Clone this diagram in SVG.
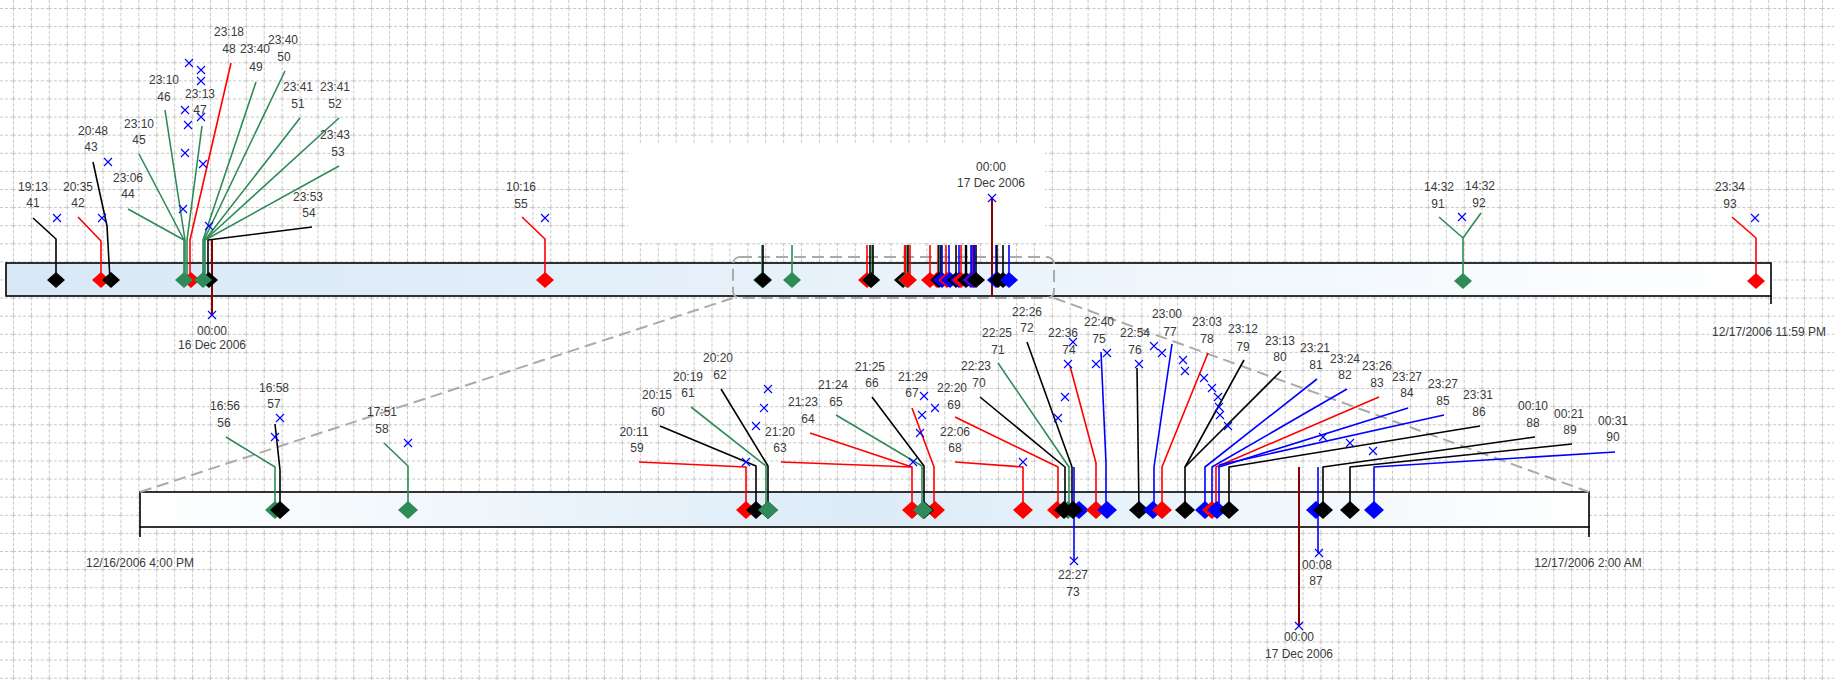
<svg xmlns="http://www.w3.org/2000/svg" xmlns:xlink="http://www.w3.org/1999/xlink" width="1834" height="680" viewBox="0 0 1834 680">
<style>
.t{font-family:"Liberation Sans",Arial,sans-serif;font-size:12px;fill:#3a3a3a;text-anchor:middle}
.k,.r,.g,.b,.m{fill:none;stroke-width:1.6;stroke-linejoin:round}
.k{stroke:#000}.r{stroke:#f00}.g{stroke:#2e8b57}.b{stroke:#00f}.m{stroke:#8b0000;stroke-width:2}
.v{stroke-width:2.4}
.x{stroke:#00f;stroke-width:1.1;fill:none}
.dk{fill:#000}.dr{fill:#f00}.dg{fill:#2e8b57}.db{fill:#00f}
.bar{stroke:#000;stroke-width:1.6}
.zd{fill:none;stroke:#aaa;stroke-width:2;stroke-dasharray:12,6}
</style>
<defs>
<pattern id="grid" width="17.91" height="18.1" patternUnits="userSpaceOnUse" x="13" y="8">
<path d="M0,0.5H17.91M0.5,0V18.1" stroke="#c6c6c6" stroke-width="1" stroke-dasharray="3,2" fill="none"/>
</pattern>
<linearGradient id="gt" x1="0" x2="1" y1="0" y2="0">
<stop offset="0" stop-color="#d8e8f6"/><stop offset="0.55" stop-color="#eaf3fb"/><stop offset="1" stop-color="#ffffff"/>
</linearGradient>
<linearGradient id="gb" x1="0" x2="1" y1="0" y2="0">
<stop offset="0" stop-color="#ffffff"/><stop offset="0.5" stop-color="#dcebf7"/><stop offset="1" stop-color="#ffffff"/>
</linearGradient>
<path id="d1" d="M0,-8L9,0L0,8L-9,0Z"/>
<path id="d2" d="M0,-9L10,0L0,9L-10,0Z"/>
<path id="xm" d="M-4,-4L4,4M4,-4L-4,4"/>
</defs>

<rect width="1834" height="680" fill="#fff"/>
<rect width="1834" height="680" fill="url(#grid)"/>
<rect x="628" y="143" width="417" height="100" fill="#fff"/>

<g id="timeline-top">
<rect class="bar" x="6" y="263" width="1765" height="33" fill="url(#gt)"/>
<path class="k" d="M1771,296V304"/>
<text class="t" x="1769" y="336">12/17/2006 11:59 PM</text>
</g>
<g id="timeline-bottom">
<rect class="bar" x="140" y="492" width="1449" height="35" fill="url(#gb)"/>
<path class="k" d="M140,527V537M1589,527V537"/>
<text class="t" x="140" y="567">12/16/2006 4:00 PM</text>
<text class="t" x="1588" y="567">12/17/2006 2:00 AM</text>
</g>
<g id="zoom-window">
<rect class="zd" x="733" y="257" width="321" height="41" rx="7"/>
<path class="zd" d="M733,298L140,492M1054,298L1589,492"/>
</g>

<g id="connectors">
<path class="k" d="M33,218L56,239V280"/>
<path class="r" d="M78,217L101,241V280"/>
<path class="k" d="M93,162L107,226L110,280"/>
<path class="g" d="M128,209L184,240V280"/>
<path class="g" d="M139,154L184,240"/>
<path class="g" d="M165,110L185,240V280"/>
<path class="g" d="M202,126L187,240V280"/>
<path class="r" d="M231,63L190,240V280"/>
<path class="g" d="M256,82L203,240V280"/>
<path class="g" d="M285,71L204,240V280"/>
<path class="g" d="M300,118L205,240V280"/>
<path class="g" d="M339,118L205,240"/>
<path class="g" d="M339,166L205,240"/>
<path class="k" d="M312,227L208,240V280"/>
<path class="m" d="M212,240V315"/>
<path class="r" d="M522,217L545,239V280"/>
<path class="m" d="M992,198V296"/>
<path class="g" d="M1439,217L1463,238V280M1481,213L1463,238"/>
<path class="r" d="M1732,217L1756,238V280"/>
<g id="top-stubs">
<path class="g" d="M762,245V280"/><path class="k" d="M763,245V280"/><path class="g" d="M792,245V280"/>
<path class="r" d="M867,245V280"/><path class="k" d="M870,245V280"/><path class="g" d="M872,245V280"/><path class="k" d="M873,245V280"/>
<path class="r v" d="M905,245V280"/><path class="g" d="M907,245V280"/><path class="k" d="M908,245V280"/><path class="r" d="M910,245V280"/>
<path class="r" d="M930,245V280"/>
<path class="r" d="M938,245V280"/><path class="k" d="M939,245V280"/><path class="g" d="M940,245V280"/><path class="k" d="M941,245V280"/><path class="b" d="M942,245V280"/>
<path class="r" d="M946,245V280"/><path class="b" d="M949,245V280"/>
<path class="k" d="M956,245V280"/><path class="b" d="M959,245V280"/><path class="r" d="M961,245V280"/>
<path class="k v" d="M966,245V280"/>
<path class="b" d="M971,245V280"/><path class="b" d="M972,245V280"/><path class="r" d="M973,245V280"/><path class="b v" d="M974,245V280"/><path class="k" d="M976,245V280"/>
<path class="b" d="M996,245V280"/><path class="k" d="M997,245V280"/><path class="k" d="M1003,245V280"/><path class="b" d="M1009,245V280"/>
</g>
<path class="g" d="M226,437L275,467V510"/>
<path class="k" d="M275,424L280,470V510"/>
<path class="g" d="M384,443L408,466V510"/>
<path class="r" d="M639,462L746,467V510"/>
<path class="k" d="M660,426L756,466V510"/>
<path class="g" d="M691,407L766,466V510"/>
<path class="k" d="M721,389L768,466V510"/>
<path class="r" d="M781,462L912,467V510"/>
<path class="r" d="M810,433L912,467"/>
<path class="g" d="M836,415L922,466V510"/>
<path class="k" d="M872,397L924,466V510"/>
<path class="r" d="M912,408L934,467V510"/>
<path class="r" d="M955,462L1023,467V510"/>
<path class="r" d="M955,417L1058,467V510"/>
<path class="k" d="M980,397L1065,467V510"/>
<path class="g" d="M998,363L1069,467V510"/>
<path class="k" d="M1027,342L1072,467V510"/>
<path class="b" d="M1074,467V561"/>
<path class="r" d="M1070,366L1096,463V510"/>
<path class="b" d="M1101,352L1106,463V510"/>
<path class="k" d="M1137,368L1139,510"/>
<path class="b" d="M1172,344L1154,467V510"/>
<path class="r" d="M1208,353L1162,467V510"/>
<path class="k" d="M1244,360L1185,467V510"/>
<path class="k" d="M1281,371L1185,467"/>
<path class="b" d="M1317,379L1205,467V510"/>
<path class="b" d="M1347,389L1212,467V510"/>
<path class="r" d="M1379,397L1216,467V510"/>
<path class="b" d="M1408,408L1219,467V510"/>
<path class="b" d="M1444,415L1219,465"/>
<path class="k" d="M1480,426L1229,467V510"/>
<path class="m" d="M1299,467V626"/>
<path class="b" d="M1318,467V553"/>
<path class="k" d="M1535,437L1323,467V510"/>
<path class="k" d="M1572,444L1350,467V510"/>
<path class="b" d="M1615,452L1374,467V510"/>
</g>

<g id="xmarks" class="x">
<use href="#xm" x="57" y="218"/><use href="#xm" x="102" y="218"/><use href="#xm" x="108" y="162"/>
<use href="#xm" x="189" y="63"/><use href="#xm" x="201" y="70"/><use href="#xm" x="201" y="81"/>
<use href="#xm" x="185" y="110"/><use href="#xm" x="201" y="117"/><use href="#xm" x="188" y="125"/>
<use href="#xm" x="185" y="153"/><use href="#xm" x="203" y="164"/><use href="#xm" x="183" y="209"/>
<use href="#xm" x="209" y="226"/><use href="#xm" x="212" y="315"/><use href="#xm" x="545" y="218"/>
<use href="#xm" x="992" y="198"/><use href="#xm" x="1462" y="217"/><use href="#xm" x="1755" y="218"/>
<use href="#xm" x="280" y="418"/><use href="#xm" x="275" y="437"/><use href="#xm" x="408" y="443"/>
<use href="#xm" x="768" y="389"/><use href="#xm" x="764" y="408"/><use href="#xm" x="756" y="426"/><use href="#xm" x="746" y="462"/>
<use href="#xm" x="924" y="396"/><use href="#xm" x="935" y="408"/><use href="#xm" x="922" y="415"/><use href="#xm" x="920" y="433"/><use href="#xm" x="913" y="462"/>
<use href="#xm" x="1023" y="462"/><use href="#xm" x="1058" y="418"/><use href="#xm" x="1065" y="397"/><use href="#xm" x="1073" y="342"/>
<use href="#xm" x="1068" y="364"/><use href="#xm" x="1096" y="364"/><use href="#xm" x="1107" y="353"/><use href="#xm" x="1139" y="364"/>
<use href="#xm" x="1154" y="346"/><use href="#xm" x="1162" y="353"/><use href="#xm" x="1183" y="360"/><use href="#xm" x="1185" y="371"/>
<use href="#xm" x="1204" y="378"/><use href="#xm" x="1212" y="388"/><use href="#xm" x="1218" y="397"/><use href="#xm" x="1219" y="407"/>
<use href="#xm" x="1220" y="415"/><use href="#xm" x="1228" y="426"/><use href="#xm" x="1323" y="437"/><use href="#xm" x="1350" y="443"/>
<use href="#xm" x="1373" y="451"/><use href="#xm" x="1074" y="561"/><use href="#xm" x="1319" y="553"/><use href="#xm" x="1299" y="626"/>
</g>

<g id="e41"><use href="#d1" class="dk" x="56" y="280"/><text class="t" x="33" y="191">19:13</text><text class="t" x="33" y="207">41</text></g>
<g id="e42"><use href="#d1" class="dr" x="101" y="280"/><text class="t" x="78" y="191">20:35</text><text class="t" x="78" y="207">42</text></g>
<g id="e43"><use href="#d1" class="dk" x="111" y="280"/><text class="t" x="93" y="135">20:48</text><text class="t" x="91" y="151">43</text></g>
<g id="e48"><use href="#d1" class="dr" x="191" y="280"/><text class="t" x="229" y="36">23:18</text><text class="t" x="229" y="53">48</text></g>
<g id="e54"><use href="#d1" class="dk" x="209" y="280"/><text class="t" x="308" y="201">23:53</text><text class="t" x="309" y="217">54</text></g>
<g id="e44"><use href="#d1" class="dg" x="184" y="280"/><text class="t" x="128" y="182">23:06</text><text class="t" x="128" y="198">44</text></g>
<g id="e45"><text class="t" x="139" y="128">23:10</text><text class="t" x="139" y="144">45</text></g>
<g id="e46"><text class="t" x="164" y="84">23:10</text><text class="t" x="164" y="101">46</text></g>
<g id="e47"><text class="t" x="200" y="98">23:13</text><text class="t" x="200" y="114">47</text></g>
<g id="e49"><use href="#d1" class="dg" x="203" y="280"/><text class="t" x="255" y="53">23:40</text><text class="t" x="256" y="71">49</text></g>
<g id="e50"><text class="t" x="283" y="44">23:40</text><text class="t" x="284" y="61">50</text></g>
<g id="e51"><text class="t" x="298" y="91">23:41</text><text class="t" x="298" y="108">51</text></g>
<g id="e52"><text class="t" x="335" y="91">23:41</text><text class="t" x="335" y="108">52</text></g>
<g id="e53"><text class="t" x="335" y="139">23:43</text><text class="t" x="338" y="156">53</text></g>
<g id="day16"><text class="t" x="212" y="335">00:00</text><text class="t" x="212" y="349">16 Dec 2006</text></g>
<g id="e55"><use href="#d1" class="dr" x="545" y="280"/><text class="t" x="521" y="191">10:16</text><text class="t" x="521" y="208">55</text></g>
<g id="day17top"><text class="t" x="991" y="171">00:00</text><text class="t" x="991" y="187">17 Dec 2006</text></g>
<g id="e91"><use href="#d1" class="dg" x="1463" y="281"/><text class="t" x="1439" y="191">14:32</text><text class="t" x="1438" y="208">91</text></g>
<g id="e92"><text class="t" x="1480" y="190">14:32</text><text class="t" x="1479" y="207">92</text></g>
<g id="e93"><use href="#d1" class="dr" x="1756" y="281"/><text class="t" x="1730" y="191">23:34</text><text class="t" x="1730" y="208">93</text></g>

<g id="top-zoomed-markers">
<use href="#d1" class="dg" x="762" y="280"/><use href="#d1" class="dk" x="763" y="280"/><use href="#d1" class="dg" x="792" y="280"/>
<use href="#d1" class="dr" x="867" y="280"/><use href="#d1" class="dg" x="871" y="280"/><use href="#d1" class="dk" x="871" y="280"/>
<use href="#d1" class="dk" x="903" y="280"/><use href="#d1" class="dg" x="907" y="280"/><use href="#d1" class="dr" x="908" y="280"/>
<use href="#d1" class="dr" x="930" y="280"/>
<use href="#d1" class="dr" x="937" y="280"/><use href="#d1" class="dk" x="939" y="280"/><use href="#d1" class="db" x="942" y="280"/>
<use href="#d1" class="dr" x="947" y="280"/><use href="#d1" class="db" x="950" y="280"/>
<use href="#d1" class="dk" x="956" y="280"/><use href="#d1" class="db" x="959" y="280"/><use href="#d1" class="dr" x="961" y="280"/>
<use href="#d1" class="dk" x="966" y="280"/><use href="#d1" class="db" x="971" y="280"/><use href="#d1" class="dr" x="973" y="280"/>
<use href="#d1" class="db" x="974" y="280"/><use href="#d1" class="dk" x="976" y="280"/>
<use href="#d1" class="db" x="996" y="280"/><use href="#d1" class="dk" x="998" y="280"/><use href="#d1" class="dk" x="1003" y="280"/><use href="#d1" class="db" x="1009" y="280"/>
</g>

<g id="e56"><use href="#d2" class="dg" x="275" y="510"/><text class="t" x="225" y="410">16:56</text><text class="t" x="224" y="427">56</text></g>
<g id="e57"><use href="#d2" class="dk" x="280" y="510"/><text class="t" x="274" y="392">16:58</text><text class="t" x="274" y="408">57</text></g>
<g id="e58"><use href="#d2" class="dg" x="408" y="510"/><text class="t" x="382" y="416">17:51</text><text class="t" x="382" y="433">58</text></g>
<g id="e59"><use href="#d2" class="dr" x="746" y="510"/><text class="t" x="634" y="436">20:11</text><text class="t" x="637" y="452">59</text></g>
<g id="e60"><use href="#d2" class="dk" x="756" y="510"/><text class="t" x="657" y="399">20:15</text><text class="t" x="658" y="416">60</text></g>
<g id="e62"><use href="#d2" class="dk" x="768" y="510"/><text class="t" x="718" y="362">20:20</text><text class="t" x="720" y="379">62</text></g>
<g id="e61"><use href="#d2" class="dg" x="768" y="510"/><text class="t" x="688" y="381">20:19</text><text class="t" x="688" y="397">61</text></g>
<g id="e63"><use href="#d2" class="dr" x="912" y="510"/><text class="t" x="780" y="436">21:20</text><text class="t" x="780" y="452">63</text></g>
<g id="e64"><text class="t" x="803" y="406">21:23</text><text class="t" x="808" y="423">64</text></g>
<g id="e67"><use href="#d2" class="dr" x="935" y="510"/><text class="t" x="913" y="381">21:29</text><text class="t" x="912" y="397">67</text></g>
<g id="e66"><use href="#d2" class="dk" x="924" y="510"/><text class="t" x="870" y="371">21:25</text><text class="t" x="872" y="387">66</text></g>
<g id="e65"><use href="#d2" class="dg" x="923" y="510"/><text class="t" x="833" y="389">21:24</text><text class="t" x="836" y="406">65</text></g>
<g id="e68"><use href="#d2" class="dr" x="1023" y="510"/><text class="t" x="955" y="436">22:06</text><text class="t" x="955" y="452">68</text></g>
<g id="e73"><use href="#d2" class="db" x="1079" y="510"/><text class="t" x="1073" y="579">22:27</text><text class="t" x="1073" y="596">73</text></g>
<g id="e69"><use href="#d2" class="dr" x="1057" y="510"/><text class="t" x="952" y="392">22:20</text><text class="t" x="954" y="409">69</text></g>
<g id="e71"><use href="#d2" class="dg" x="1068" y="510"/><text class="t" x="997" y="337">22:25</text><text class="t" x="998" y="354">71</text></g>
<g id="e70"><use href="#d2" class="dk" x="1064" y="510"/><text class="t" x="976" y="370">22:23</text><text class="t" x="979" y="387">70</text></g>
<g id="e72"><use href="#d2" class="dk" x="1073" y="510"/><text class="t" x="1027" y="316">22:26</text><text class="t" x="1027" y="332">72</text></g>
<g id="e74"><use href="#d2" class="dr" x="1096" y="510"/><text class="t" x="1063" y="337">22:36</text><text class="t" x="1069" y="354">74</text></g>
<g id="e75"><use href="#d2" class="db" x="1107" y="510"/><text class="t" x="1099" y="326">22:40</text><text class="t" x="1099" y="343">75</text></g>
<g id="e76"><use href="#d2" class="dk" x="1139" y="510"/><text class="t" x="1135" y="337">22:54</text><text class="t" x="1135" y="354">76</text></g>
<g id="e77"><use href="#d2" class="db" x="1153" y="510"/><text class="t" x="1167" y="318">23:00</text><text class="t" x="1170" y="336">77</text></g>
<g id="e78"><use href="#d2" class="dr" x="1162" y="510"/><text class="t" x="1207" y="326">23:03</text><text class="t" x="1207" y="343">78</text></g>
<g id="e79"><use href="#d2" class="dk" x="1185" y="510"/><text class="t" x="1243" y="333">23:12</text><text class="t" x="1243" y="351">79</text></g>
<g id="e80"><text class="t" x="1280" y="345">23:13</text><text class="t" x="1280" y="361">80</text></g>
<g id="e81"><use href="#d2" class="db" x="1205" y="510"/><text class="t" x="1315" y="352">23:21</text><text class="t" x="1316" y="369">81</text></g>
<g id="e83"><use href="#d2" class="dr" x="1212" y="510"/><text class="t" x="1377" y="370">23:26</text><text class="t" x="1377" y="387">83</text></g>
<g id="e82"><text class="t" x="1345" y="363">23:24</text><text class="t" x="1345" y="379">82</text></g>
<g id="e84"><use href="#d2" class="db" x="1217" y="510"/><text class="t" x="1407" y="381">23:27</text><text class="t" x="1407" y="397">84</text></g>
<g id="e85"><text class="t" x="1443" y="388">23:27</text><text class="t" x="1443" y="405">85</text></g>
<g id="e86"><use href="#d2" class="dk" x="1229" y="510"/><text class="t" x="1478" y="399">23:31</text><text class="t" x="1479" y="416">86</text></g>
<g id="e87"><use href="#d2" class="db" x="1316" y="510"/><text class="t" x="1317" y="569">00:08</text><text class="t" x="1316" y="585">87</text></g>
<g id="e88"><use href="#d2" class="dk" x="1323" y="510"/><text class="t" x="1533" y="410">00:10</text><text class="t" x="1533" y="427">88</text></g>
<g id="e89"><use href="#d2" class="dk" x="1350" y="510"/><text class="t" x="1569" y="418">00:21</text><text class="t" x="1570" y="434">89</text></g>
<g id="e90"><use href="#d2" class="db" x="1374" y="510"/><text class="t" x="1613" y="425">00:31</text><text class="t" x="1613" y="441">90</text></g>
<g id="day17"><text class="t" x="1299" y="641">00:00</text><text class="t" x="1299" y="658">17 Dec 2006</text></g>
</svg>
